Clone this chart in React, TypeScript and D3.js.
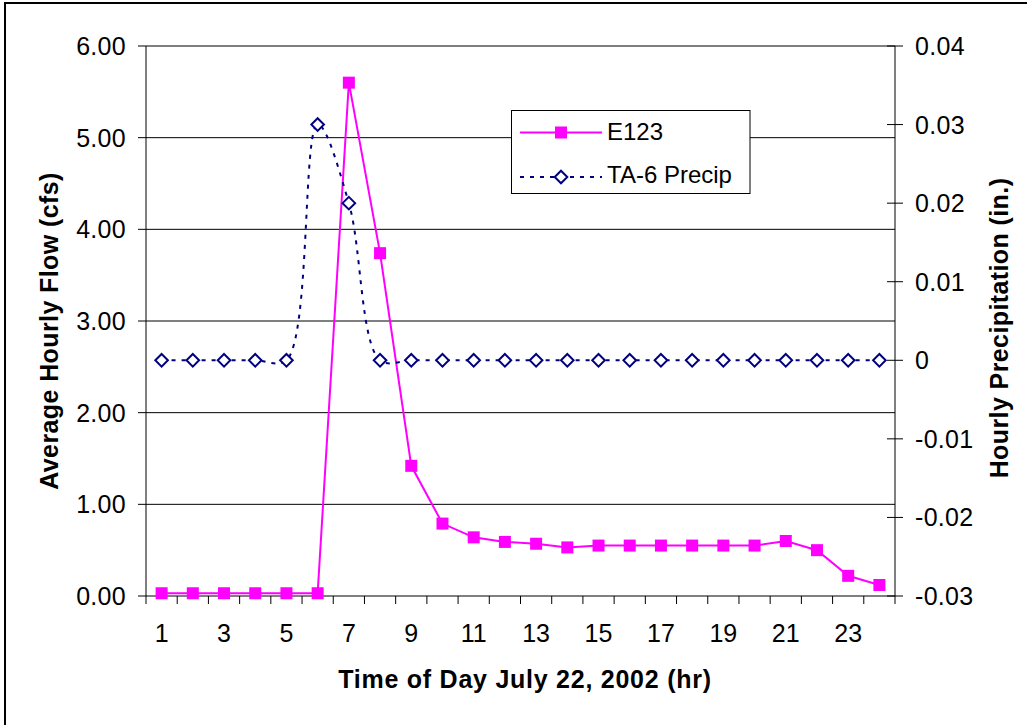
import React from "react";
import * as d3 from "d3";

// Hour of day (category axis)
const hours = [1, 2, 3, 4, 5, 6, 7, 8, 9, 10, 11, 12, 13, 14, 15, 16, 17, 18, 19, 20, 21, 22, 23, 24];
// Average hourly flow at E123 (cfs)
const flowE123 = [0.03, 0.03, 0.03, 0.03, 0.03, 0.03, 5.6, 3.74, 1.42, 0.79, 0.64, 0.59, 0.57, 0.53, 0.55, 0.55, 0.55, 0.55, 0.55, 0.55, 0.6, 0.5, 0.22, 0.12];
// Hourly precipitation at TA-6 (in.)
const precipTA6 = [0, 0, 0, 0, 0, 0.03, 0.02, 0, 0, 0, 0, 0, 0, 0, 0, 0, 0, 0, 0, 0, 0, 0, 0, 0];
// Axis tick values
const flowTicks = [0, 1, 2, 3, 4, 5, 6];
const precipTicks = [-0.03, -0.02, -0.01, 0, 0.01, 0.02, 0.03, 0.04];
const hourLabels = [1, 3, 5, 7, 9, 11, 13, 15, 17, 19, 21, 23];

const W = 1031;
const H = 725;
const left = 146;
const right = 895;
const top = 46;
const bottom = 596;

const FONT = "'Liberation Sans', Arial, sans-serif";
const MAGENTA = "#FF00FF";
const NAVY = "#000080";

export default function App() {
  const x = d3.scaleBand<number>().domain(hours).range([left, right]).padding(0);
  const yFlow = d3.scaleLinear().domain([0, 6]).range([bottom, top]);
  const yPrecip = d3.scaleLinear().domain([-0.03, 0.04]).range([bottom, top]);
  const cx = (h: number) => (x(h) as number) + x.bandwidth() / 2;

  const flowLine = d3
    .line<number>()
    .x((_, i) => cx(hours[i]))
    .y((d) => yFlow(d))(flowE123) as string;

  const precipLine = d3
    .line<number>()
    .x((_, i) => cx(hours[i]))
    .y((d) => yPrecip(d))
    .curve(d3.curveCatmullRom.alpha(0.5))(precipTA6) as string;

  const sq = 12;
  const dm = 6.3;
  const diamond = (px: number, py: number) =>
    `M${px},${py - dm}L${px + dm},${py}L${px},${py + dm}L${px - dm},${py}Z`;

  const boundaries = [...hours.map((h) => x(h) as number), right];

  return (
    <svg
      width={W}
      height={H}
      style={{ position: "absolute", left: 0, top: 0, background: "#fff" }}
      fontFamily={FONT}
    >
      {/* chart frame */}
      <line x1={5} y1={3} x2={1027} y2={3} stroke="#000" strokeWidth={2} />
      <line x1={5} y1={2} x2={5} y2={H} stroke="#000" strokeWidth={2} />

      {/* horizontal gridlines */}
      {flowTicks.slice(1).map((t) => (
        <line key={"g" + t} x1={left} x2={right} y1={yFlow(t)} y2={yFlow(t)} stroke="#000" strokeWidth={1} />
      ))}

      {/* left axis */}
      <line x1={left} x2={left} y1={top} y2={bottom} stroke="#000" />
      {flowTicks.map((t) => (
        <g key={"l" + t}>
          <line x1={left - 8} x2={left} y1={yFlow(t)} y2={yFlow(t)} stroke="#000" />
          <text x={126} y={yFlow(t)} dy="0.36em" textAnchor="end" fontSize={25} letterSpacing={0.3}>
            {t.toFixed(2)}
          </text>
        </g>
      ))}

      {/* right axis */}
      <line x1={right} x2={right} y1={top} y2={bottom} stroke="#000" />
      {precipTicks.map((t) => (
        <g key={"r" + t}>
          <line x1={right - 8} x2={right + 8} y1={yPrecip(t)} y2={yPrecip(t)} stroke="#000" />
          <text x={915} y={yPrecip(t)} dy="0.36em" textAnchor="start" fontSize={25} letterSpacing={0.3}>
            {Math.abs(t) < 1e-9 ? "0" : t.toFixed(2)}
          </text>
        </g>
      ))}

      {/* bottom axis */}
      <line x1={left} x2={right} y1={bottom} y2={bottom} stroke="#000" />
      {boundaries.map((b, i) => (
        <line key={"b" + i} x1={b} x2={b} y1={bottom} y2={bottom + 8} stroke="#000" />
      ))}
      {hourLabels.map((h) => (
        <text key={"x" + h} x={cx(h)} y={642} textAnchor="middle" fontSize={25}>
          {h}
        </text>
      ))}

      {/* axis titles */}
      <text x={525} y={688} textAnchor="middle" fontSize={25} fontWeight="bold" letterSpacing={0.75}>
        Time of Day July 22, 2002 (hr)
      </text>
      <text transform="translate(57.5,331) rotate(-90)" textAnchor="middle" fontSize={25} fontWeight="bold" letterSpacing={0.4}>
        Average Hourly Flow (cfs)
      </text>
      <text transform="translate(1008,328) rotate(-90)" textAnchor="middle" fontSize={25} fontWeight="bold" letterSpacing={0.4}>
        Hourly Precipitation (in.)
      </text>

      {/* E123 flow series */}
      <path d={flowLine} fill="none" stroke={MAGENTA} strokeWidth={2} />
      {flowE123.map((v, i) => (
        <rect key={"s" + i} x={cx(hours[i]) - sq / 2} y={yFlow(v) - sq / 2} width={sq} height={sq} fill={MAGENTA} />
      ))}

      {/* TA-6 precipitation series */}
      <path d={precipLine} fill="none" stroke={NAVY} strokeWidth={2} strokeDasharray="4,6" />
      {precipTA6.map((v, i) => (
        <path key={"d" + i} d={diamond(cx(hours[i]), yPrecip(v))} fill="#fff" stroke={NAVY} strokeWidth={2} />
      ))}

      {/* legend */}
      <rect x={511.5} y={110.5} width={238.5} height={83} fill="#fff" stroke="#000" strokeWidth={1} />
      <line x1={520} x2={602} y1={132.5} y2={132.5} stroke={MAGENTA} strokeWidth={2} />
      <rect x={561 - sq / 2} y={132.5 - sq / 2} width={sq} height={sq} fill={MAGENTA} />
      <text x={607} y={140} fontSize={24}>
        E123
      </text>
      <line x1={520} x2={602} y1={177} y2={177} stroke={NAVY} strokeWidth={2} strokeDasharray="4,6" />
      <path d={diamond(561, 177)} fill="#fff" stroke={NAVY} strokeWidth={2} />
      <text x={607} y={183} fontSize={24}>
        TA-6 Precip
      </text>
    </svg>
  );
}
